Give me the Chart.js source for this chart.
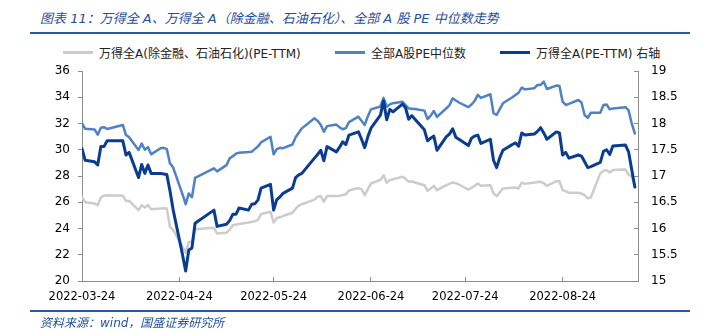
<!DOCTYPE html>
<html>
<head>
<meta charset="utf-8">
<script src="https://cdn.jsdelivr.net/npm/chart.js@4.4.0/dist/chart.umd.min.js"></script>
<style>
  body { margin: 0; background: #fff; }
  #page { position: relative; width: 704px; height: 332px; overflow: hidden; font-family: "DejaVu Sans", "Noto Sans CJK SC", sans-serif; }
  #title { position: absolute; left: 40px; top: 8px; font-size: 13px; font-style: italic; color: #1f4e9b; white-space: nowrap; }
  .rule { position: absolute; left: 30px; width: 660px; height: 2px; background: #2a5aa6; }
  #legend { position: absolute; left: 0; top: 44px; width: 704px; height: 16px; font-size: 12px; color: #222; white-space: nowrap; }
  #legend .item { position: absolute; top: 0; display: flex; align-items: center; height: 16px; }
  #legend .swatch { width: 30px; height: 3px; margin-right: 6px; }
  #foot { position: absolute; left: 40px; top: 313px; font-size: 12px; font-style: italic; color: #1f4e9b; white-space: nowrap; }
  #chart { position: absolute; left: 0; top: 0; }
</style>
</head>
<body>
<div id="page">
  <div id="title">图表 11：万得全 A、万得全 A（除金融、石油石化）、全部 A 股 PE 中位数走势</div>
  <div class="rule" style="top:32px"></div>
  <div id="legend"></div>
  <canvas id="chart" width="704" height="332"></canvas>
  <div class="rule" style="top:310px"></div>
  <div id="foot">资料来源：wind，国盛证券研究所</div>
</div>
<script>
// trading days (2022)
var dates = [
  '03-24','03-25','03-28','03-29','03-30','03-31',
  '04-01','04-06','04-07','04-08','04-11','04-12','04-13','04-14','04-15','04-18','04-19','04-20','04-21','04-22','04-25','04-26','04-27','04-28','04-29',
  '05-05','05-06','05-09','05-10','05-11','05-12','05-13','05-16','05-17','05-18','05-19','05-20','05-23','05-24','05-25','05-26','05-27','05-30','05-31',
  '06-01','06-02','06-06','06-07','06-08','06-09','06-10','06-13','06-14','06-15','06-16','06-17','06-20','06-21','06-22','06-23','06-24','06-27','06-28','06-29','06-30',
  '07-01','07-04','07-05','07-06','07-07','07-08','07-11','07-12','07-13','07-14','07-15','07-18','07-19','07-20','07-21','07-22','07-25','07-26','07-27','07-28','07-29',
  '08-01','08-02','08-03','08-04','08-05','08-08','08-09','08-10','08-11','08-12','08-15','08-16','08-17','08-18','08-19','08-22','08-23','08-24','08-25','08-26','08-29','08-30','08-31',
  '09-01','09-02','09-05','09-06','09-07','09-08','09-09','09-13','09-14','09-15','09-16'
];

// 全部A股PE中位数 (left axis)
var medianPE = [
  32.0, 31.6, 31.55, 31.15, 31.68, 31.72,
  31.58, 31.89, 31.12, 30.95, 29.98, 30.47, 30.0, 30.2, 29.65, 30.12, 30.15, 30.05, 28.96, 28.66, 26.6, 25.85, 26.67, 26.38, 27.85,
  28.58, 28.35, 28.83, 29.34, 29.5, 29.7, 29.78, 29.82, 29.85, 30.05, 30.25, 30.56, 30.99, 29.65, 30.05, 30.15, 30.12, 30.4, 30.95,
  31.3, 31.63, 32.4, 32.2, 31.9, 31.37, 31.8, 31.92, 31.7, 31.56, 31.65, 32.1, 32.52, 32.2, 31.89, 32.55, 33.08, 33.3, 33.95, 33.28, 33.45,
  33.55, 33.66, 33.4, 33.15, 33.13, 33.1, 32.98, 32.34, 32.6, 32.95, 32.5, 33.16, 33.4, 33.92, 33.75, 33.6, 33.25, 33.45, 33.72, 34.18, 33.95,
  34.23, 32.78, 32.65, 33.1, 33.54, 34.0, 34.18, 34.35, 34.73, 34.6, 34.69, 34.94, 34.94, 35.19, 34.63, 34.89, 34.85, 33.66, 33.41, 33.5, 33.79, 33.6, 32.65,
  32.44, 32.82, 32.82, 33.41, 33.45, 33.08, 33.15, 33.24, 33.0, 32.0, 31.25
];

// 万得全A(PE-TTM) (right axis)
var windA = [
  17.52, 17.3, 17.27, 17.21, 17.56, 17.56,
  17.67, 17.67, 17.4, 17.45, 16.97, 17.22, 17.05, 17.21, 17.05, 17.05, 17.04, 17.03, 16.72, 16.36, 15.5, 15.19, 15.59, 15.63, 16.1,
  16.35, 16.04, 16.08, 16.15, 16.27, 16.27, 16.39, 16.35, 16.46, 16.47, 16.54, 16.77, 16.84, 16.35, 16.55, 16.6, 16.67, 16.77, 16.97,
  17.02, 17.05, 17.34, 17.41, 17.49, 17.29, 17.56, 17.46, 17.55, 17.65, 17.6, 17.78, 17.84, 17.7, 17.54, 17.75, 17.91, 18.16, 18.43, 18.07, 18.27,
  18.22, 18.37, 18.3, 18.08, 18.15, 18.08, 17.88, 17.67, 17.72, 17.76, 17.49, 17.75, 17.8, 17.9, 17.74, 17.7, 17.58, 17.72, 17.76, 17.78, 17.62,
  17.7, 17.3, 17.16, 17.35, 17.49, 17.6, 17.63, 17.57, 17.82, 17.78, 17.8, 17.85, 17.92, 17.82, 17.7, 17.84, 17.82, 17.4, 17.45, 17.34, 17.4, 17.38, 17.27,
  17.16, 17.18, 17.26, 17.47, 17.5, 17.41, 17.57, 17.59, 17.46, 17.12, 16.79
];

// 万得全A(除金融、石油石化)(PE-TTM) (left axis)
var windExFin = [
  26.4, 26.0, 25.9, 25.78, 26.36, 26.5,
  26.54, 26.5, 26.1, 26.1, 25.4, 25.78, 25.6, 25.78, 25.47, 25.52, 25.55, 25.52, 24.12, 23.9, 22.6, 22.15, 22.98, 22.98, 23.95,
  24.05, 23.62, 23.68, 23.9, 24.25, 24.3, 24.35, 24.45, 24.5, 24.55, 24.65, 25.1, 25.27, 24.46, 24.8, 24.85, 24.95, 25.2, 25.5,
  25.75, 25.85, 26.2, 26.42, 26.47, 26.05, 26.47, 26.47, 26.5, 26.55, 26.6, 26.9, 27.08, 27.0, 26.54, 27.0, 27.43, 27.7, 28.05, 27.48, 27.7,
  27.75, 27.94, 27.8, 27.56, 27.6, 27.5, 27.3, 26.87, 27.05, 27.25, 26.92, 27.3, 27.4, 27.51, 27.45, 27.35, 26.95, 27.1, 27.25, 27.43, 27.25,
  27.3, 26.67, 26.47, 26.75, 27.05, 27.1, 27.12, 27.05, 27.5, 27.4, 27.5, 27.55, 27.56, 27.45, 27.25, 27.6, 27.6, 26.92, 26.85, 26.72, 26.72, 26.65, 26.54,
  26.29, 26.38, 28.2, 28.4, 28.45, 28.27, 28.45, 28.5, 28.1, 27.95, 27.25
];

var tickDates = ['03-24', '04-24', '05-24', '06-24', '07-24', '08-24'];
var seriesNames = ['万得全A(除金融、石油石化)(PE-TTM)', '全部A股PE中位数', '万得全A(PE-TTM) 右轴'];
var seriesColors = ['#cccccc', '#4f81c6', '#0a3d92'];
var legendLefts = [63, 335, 500];

var startDay = Date.UTC(2022, 2, 24);
function dayOffset(md) {
  var p = md.split('-');
  return Math.round((Date.UTC(2022, +p[0] - 1, +p[1]) - startDay) / 86400000);
}
function dayLabel(v) {
  var d = new Date(startDay + v * 86400000);
  var m = ('0' + (d.getUTCMonth() + 1)).slice(-2);
  var dd = ('0' + d.getUTCDate()).slice(-2);
  return '2022-' + m + '-' + dd;
}
function toPoints(values) {
  return values.map(function(v, i) { return { x: dayOffset(dates[i]), y: v }; });
}

// html legend
var legend = document.getElementById('legend');
seriesNames.forEach(function(name, i) {
  var item = document.createElement('div');
  item.className = 'item';
  item.style.left = legendLefts[i] + 'px';
  item.innerHTML = '<span class="swatch" style="background:' + seriesColors[i] + '"></span><span>' + name + '</span>';
  legend.appendChild(item);
});

Chart.defaults.font.family = '"DejaVu Sans", "Noto Sans CJK SC", sans-serif';
Chart.defaults.font.size = 11.5;
Chart.defaults.color = '#000';

var axisColor = '#8c8c8c';

var ctx = document.getElementById('chart').getContext('2d');
var chart = new Chart(ctx, {
  type: 'line',
  data: {
    datasets: [
      { label: seriesNames[0], data: toPoints(windExFin), yAxisID: 'y', borderColor: seriesColors[0], borderWidth: 2.5, order: 3 },
      { label: seriesNames[1], data: toPoints(medianPE), yAxisID: 'y', borderColor: seriesColors[1], borderWidth: 2.5, order: 2 },
      { label: seriesNames[2], data: toPoints(windA), yAxisID: 'y1', borderColor: seriesColors[2], borderWidth: 3, order: 1 }
    ]
  },
  options: {
    responsive: false,
    animation: false,
    events: [],
    elements: {
      point: { radius: 0 },
      line: { tension: 0, borderJoinStyle: 'round', borderCapStyle: 'round' }
    },
    layout: { padding: { left: 42, right: 10, top: 71, bottom: 22 } },
    plugins: {
      legend: { display: false },
      tooltip: { enabled: false }
    },
    scales: {
      x: {
        type: 'linear',
        min: 0,
        max: 177,
        afterBuildTicks: function(scale) {
          scale.ticks = tickDates.map(function(t) { return { value: dayOffset(t) }; });
        },
        afterFit: function(scale) { scale.height = 29; },
        ticks: {
          autoSkip: false,
          maxRotation: 0,
          padding: 13,
          callback: function(v) { return dayLabel(v); }
        },
        grid: { drawOnChartArea: false, tickLength: -4, color: axisColor },
        border: { color: axisColor }
      },
      y: {
        position: 'left',
        min: 20,
        max: 36,
        afterFit: function(scale) { scale.width = 40; },
        ticks: { stepSize: 2, padding: 8, font: { size: 12 } },
        grid: { drawOnChartArea: false, tickLength: 4, color: axisColor },
        border: { color: axisColor }
      },
      y1: {
        position: 'right',
        min: 15,
        max: 19,
        afterFit: function(scale) { scale.width = 56; },
        ticks: {
          stepSize: 0.5,
          padding: 17,
          font: { size: 12 },
          callback: function(v) { return String(Math.round(v * 10) / 10); }
        },
        grid: { drawOnChartArea: false, tickLength: -4, color: axisColor },
        border: { color: axisColor }
      }
    }
  }
});
</script>
</body>
</html>
